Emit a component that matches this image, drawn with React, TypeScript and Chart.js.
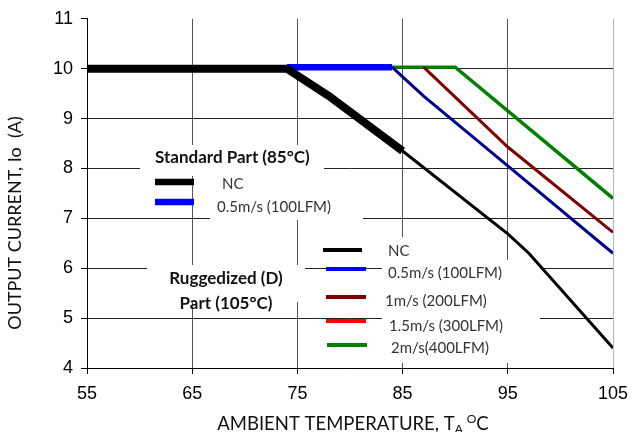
import { useEffect, useRef } from 'react';
import { Chart, registerables } from 'chart.js';

Chart.register(...registerables);

// ---- data ----
const xTickValues = [55, 65, 75, 85, 95, 105];
const yTickValues = [4, 5, 6, 7, 8, 9, 10, 11];

// Standard part (85°C)
const stdNcX = [55, 74, 78, 85];
const stdNcY = [10, 10, 9.45, 8.35];
const stdAirX = [74, 84];
const stdAirY = [10.03, 10.03];

// Ruggedized (D) part (105°C)
const rugNcX = [74, 78, 85, 95, 97, 105];
const rugNcY = [10, 9.45, 8.35, 6.69, 6.3, 4.4];
const rug05X = [84, 87, 95, 105];
const rug05Y = [10.03, 9.45, 8.05, 6.3];
const rug1X = [87, 95, 105];
const rug1Y = [10.03, 8.43, 6.72];
const rug15X: number[] = [];
const rug15Y: number[] = [];
const rug2X = [84, 90, 105];
const rug2Y = [10.03, 10.03, 7.4];

const stdLegend = ['NC', '0.5m/s (100LFM)'];
const rugLegend = ['NC', '0.5m/s (100LFM)', '1m/s (200LFM)', '1.5m/s (300LFM)', '2m/s(400LFM)'];

const pts = (xs: number[], ys: number[]) => xs.map((x, i) => ({ x, y: ys[i] }));

const FONT = 'Lato, "Noto Sans", sans-serif';

const overlay = {
  id: 'overlay',
  beforeDatasetsDraw(chart: any) {
    const ctx = chart.ctx;
    ctx.save();
    ctx.fillStyle = '#ffffff';
    // white text boxes
    ctx.fillRect(140, 145, 184, 31);
    ctx.fillRect(210, 176, 153, 44);
    ctx.fillRect(147, 265, 158, 37);
    ctx.fillRect(382, 237, 48, 25);
    ctx.fillRect(382, 260, 158, 103);
    ctx.restore();
  },
  afterDatasetsDraw(chart: any) {
    const ctx = chart.ctx;
    ctx.save();
    const sw = (x1: number, x2: number, y: number, w: number, c: string) => {
      ctx.strokeStyle = c;
      ctx.lineWidth = w;
      ctx.beginPath();
      ctx.moveTo(x1, y);
      ctx.lineTo(x2, y);
      ctx.stroke();
    };
    sw(155, 194, 182, 6.5, '#000000');
    sw(155, 194, 202, 6.5, '#0000ff');
    sw(323, 362, 250, 4, '#000000');
    sw(326, 366, 269, 4, '#0000ff');
    sw(326, 366, 297, 4, '#800000');
    sw(326, 366, 321, 4, '#ff0000');
    sw(327, 367, 345, 4, '#008000');

    ctx.textBaseline = 'middle';
    ctx.textAlign = 'left';
    ctx.fillStyle = '#111';
    ctx.font = `bold 17px ${FONT}`;
    ctx.fillText('Standard Part (85°C)', 155, 158);
    ctx.textAlign = 'center';
    ctx.fillText('Ruggedized (D)', 226, 279);
    ctx.fillText('Part (105°C)', 226, 304);

    ctx.textAlign = 'left';
    ctx.fillStyle = '#333';
    ctx.font = `15px ${FONT}`;
    ctx.fillText(stdLegend[0], 222, 184);
    ctx.fillText(stdLegend[1], 217, 207);
    ctx.fillText(rugLegend[0], 388, 251);
    ctx.fillText(rugLegend[1], 388, 273);
    ctx.fillText(rugLegend[2], 385, 301);
    ctx.fillText(rugLegend[3], 389, 326);
    ctx.fillText(rugLegend[4], 391, 348);

    // axis titles
    ctx.fillStyle = '#111';
    ctx.font = `18px ${FONT}`;
    ctx.save();
    ctx.translate(15, 223);
    ctx.rotate(-Math.PI / 2);
    ctx.textAlign = 'center';
    ctx.fillText('OUTPUT CURRENT, Io  (A)', 0, 0);
    ctx.restore();

    const main = 'AMBIENT TEMPERATURE, T';
    const sub = 'A';
    const sup = 'O';
    const tail = 'C';
    ctx.textBaseline = 'alphabetic';
    ctx.textAlign = 'left';
    ctx.font = `18.5px ${FONT}`;
    const wMain = ctx.measureText(main).width;
    const wTail = ctx.measureText(tail).width;
    ctx.font = `12px ${FONT}`;
    const wSub = ctx.measureText(sub).width;
    const wSup = ctx.measureText(sup).width;
    const gap = 4;
    const total = wMain + wSub + gap + wSup + wTail;
    let x = 353 - total / 2;
    const base = 430;
    ctx.font = `18.5px ${FONT}`;
    ctx.fillText(main, x, base);
    x += wMain;
    ctx.font = `12px ${FONT}`;
    ctx.fillText(sub, x, base + 3);
    x += wSub + gap;
    ctx.fillText(sup, x, base - 7);
    x += wSup;
    ctx.font = `18.5px ${FONT}`;
    ctx.fillText(tail, x, base);
    ctx.restore();
  },
};

export default function App() {
  const ref = useRef<HTMLCanvasElement | null>(null);
  useEffect(() => {
    if (!ref.current) return;
    const line = (data: any, color: string, width: number) => ({
      data,
      borderColor: color,
      backgroundColor: color,
      borderWidth: width,
      pointRadius: 0,
      tension: 0,
      fill: false,
    });
    const chart = new Chart(ref.current, {
      type: 'line',
      data: {
        datasets: [
          line(pts(rugNcX, rugNcY), '#000000', 3),
          line(pts(rug05X, rug05Y), '#000090', 3),
          line(pts(rug1X, rug1Y), '#800000', 3),
          line(pts(rug15X, rug15Y), '#ff0000', 3),
          line(pts(rug2X, rug2Y), '#008000', 3.5),
          line(pts(stdNcX, stdNcY), '#000000', 8),
          line(pts(stdAirX, stdAirY), '#0000ff', 6.5),
        ],
      },
      options: {
        animation: false,
        responsive: true,
        maintainAspectRatio: false,
        layout: { padding: { top: 17, right: 20, bottom: 0, left: 0 } },
        plugins: { legend: { display: false }, tooltip: { enabled: false } },
        scales: {
          x: {
            type: 'linear',
            min: 55,
            max: 105,
            afterBuildTicks: (s: any) => {
              s.ticks = xTickValues.map((v) => ({ value: v }));
            },
            afterFit: (s: any) => {
              s.height = 64;
              s.paddingLeft = 0;
              s.paddingRight = 0;
            },
            grid: {
              color: (c: any) => (c.tick && c.tick.value === 105 ? '#b8b8b8' : '#555555'),
              tickColor: '#000000',
              tickLength: 6,
              lineWidth: 1,
            },
            border: { color: '#000000', width: 1 },
            ticks: {
              color: '#000000',
              padding: 9,
              font: { family: '"Liberation Sans", Arial, sans-serif', size: 18 },
            },
          },
          y: {
            type: 'linear',
            min: 4,
            max: 11,
            afterBuildTicks: (s: any) => {
              s.ticks = yTickValues.map((v) => ({ value: v }));
            },
            afterFit: (s: any) => {
              s.width = 87;
            },
            grid: {
              color: (c: any) => (c.tick && c.tick.value === 11 ? 'rgba(0,0,0,0)' : '#222222'),
              tickColor: '#000000',
              tickLength: 6,
              lineWidth: 1,
            },
            border: { color: '#000000', width: 1 },
            ticks: {
              color: '#000000',
              padding: 8,
              font: { family: '"Liberation Sans", Arial, sans-serif', size: 18 },
            },
          },
        },
      },
      plugins: [overlay],
    });
    return () => chart.destroy();
  }, []);
  return (
    <div style={{ position: 'fixed', left: 0, top: 0, width: 633, height: 432, background: '#fff' }}>
      <canvas ref={ref} />
    </div>
  );
}
